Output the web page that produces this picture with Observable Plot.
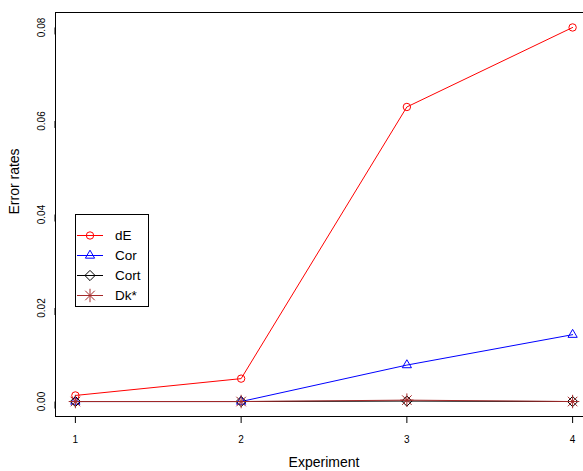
<!DOCTYPE html>
<html><head><meta charset="utf-8">
<script src="https://cdn.jsdelivr.net/npm/d3@7"></script>
<script src="https://cdn.jsdelivr.net/npm/@observablehq/plot@0.6"></script>
<style>
body{margin:0;background:#fff;}
#chart svg{display:block;}
</style>
</head><body><div id="chart"></div>
<script>
const experiments = [1, 2, 3, 4];
const seriesNames = ["dE", "Cor", "Cort", "Dk*"];
const seriesColors = ["#FF0000", "#0000FF", "#000000", "#A52A2A"];
const dE = [0.0013, 0.0049, 0.0630, 0.0800];
const Cor = [0, 0, 0.0078, 0.0143];
const Cort = [0, 0, 0.0001, 0];
const DkStar = [0, 0, 0.0003, 0];
const yTicks = [0, 0.02, 0.04, 0.06, 0.08];
const xTicks = [1, 2, 3, 4];
const xLabel = "Experiment";
const yLabel = "Error rates";

const seriesValues = [dE, Cor, Cort, DkStar];
const symbolsFor = [["circle"], ["triangle2"], ["diamond2"], ["plus", "times"]];
const d3Symbols = {circle: d3.symbolCircle, triangle2: d3.symbolTriangle2, diamond2: d3.symbolDiamond2, plus: d3.symbolPlus, times: d3.symbolTimes};
const symRadius = {circle: 3.7, triangle2: 4.4, diamond2: 4.6, plus: 4.4, times: 4.4};

const rows = seriesNames.map((name, i) => experiments.map((x, j) => ({series: name, x, y: seriesValues[i][j]})));

const font = "'Liberation Sans', Arial, Helvetica, sans-serif";

const marks = [];
seriesNames.forEach((name, i) => {
  marks.push(Plot.line(rows[i], {x: "x", y: "y", stroke: seriesColors[i], strokeWidth: 1}));
  symbolsFor[i].forEach(s => {
    marks.push(Plot.dot(rows[i], {x: "x", y: "y", stroke: seriesColors[i], fill: "none", strokeWidth: 1, symbol: () => s, r: symRadius[s]}));
  });
});

function legendMark(index, scales, values, dimensions) {
  const g = d3.create("svg:g").attr("font-family", font).attr("text-anchor", "start");
  const left = dimensions.marginLeft + 20;
  const top = dimensions.marginTop + 202;
  const rowH = 20;
  g.append("rect").attr("x", left + 0.5).attr("y", top + 0.5).attr("width", 73).attr("height", 92)
    .attr("fill", "white").attr("stroke", "black").attr("stroke-width", 1);
  seriesNames.forEach((name, i) => {
    const cy = top + 21.5 + i * rowH;
    g.append("line").attr("x1", left + 2).attr("x2", left + 28).attr("y1", cy).attr("y2", cy)
      .attr("stroke", seriesColors[i]).attr("stroke-width", 1);
    symbolsFor[i].forEach(s => {
      const r = symRadius[s];
      g.append("path").attr("transform", `translate(${left + 15},${cy})`)
        .attr("d", d3.symbol(d3Symbols[s], Math.PI * r * r)())
        .attr("fill", "none").attr("stroke", seriesColors[i]).attr("stroke-width", 1);
    });
    g.append("text").attr("x", left + 40).attr("y", cy).attr("dy", "0.35em")
      .attr("text-anchor", "start")
      .attr("font-size", 13.5).attr("fill", "black").text(name);
  });
  return g.node();
}

const chart = Plot.plot({
  width: 583,
  height: 471,
  marginLeft: 55,
  marginRight: -9,
  marginTop: 12,
  marginBottom: 55,
  style: {fontFamily: font, background: "white"},
  x: {domain: [0.88, 4.12], axis: null},
  y: {domain: [-0.0032, 0.0832], axis: null},
  marks: [
    Plot.frame({stroke: "black", strokeWidth: 1}),
    Plot.axisX({ticks: xTicks, tickSize: 7, tickPadding: 12, tickFormat: d => String(d), fontSize: 10, label: null, stroke: "black"}),
    Plot.axisY({ticks: yTicks, tickSize: 7, tickPadding: 7, tickFormat: d3.format(".2f"), rotate: -90, textAnchor: "middle", fontSize: 10, label: null, stroke: "black"}),
    Plot.text([xLabel], {text: d => d, frameAnchor: "bottom", dy: 46, fontSize: 14, fill: "black", lineAnchor: "middle"}),
    Plot.text([yLabel], {text: d => d, frameAnchor: "left", dx: -41, rotate: -90, fontSize: 14, fill: "black", lineAnchor: "middle"}),
    ...marks,
    legendMark
  ]
});
document.getElementById("chart").appendChild(chart);
</script>
</body></html>
